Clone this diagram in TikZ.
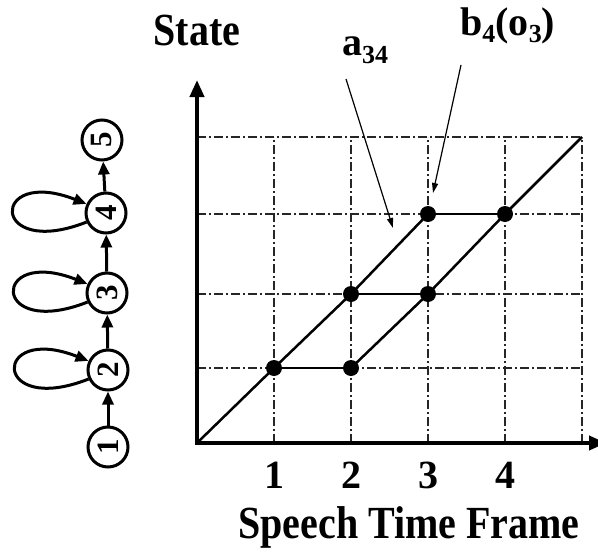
\documentclass[tikz,border=0pt]{standalone}
\usepackage{fontspec}
\setmainfont{Liberation Serif}
\usetikzlibrary{arrows.meta}
\begin{document}
\begin{tikzpicture}[x=1pt,y=-1pt,
  state/.style={circle,draw,line width=3pt,minimum size=40pt,inner sep=0pt,font=\fontsize{31}{31}\selectfont},
  trans/.style={line width=3pt,-{Triangle[length=13pt,width=11pt]}},
  gridline/.style={line width=1.2pt,dash pattern=on 9pt off 3pt on 2pt off 3pt,black!85},
  axis/.style={line width=4pt,line join=miter,{Triangle[length=17pt,width=14pt]}-{Triangle[length=17pt,width=14pt]}},
  pathline/.style={line width=2.5pt},
  dot/.style={circle,fill,inner sep=0pt,minimum size=16pt},
  pointer/.style={line width=1.2pt,-{Triangle[length=10pt,width=6pt]}},
  big/.style={font=\bfseries\fontsize{40}{40}\selectfont,inner sep=0pt},
]
\useasboundingbox (0,0) rectangle (598,552);

% HMM chain
\node[state] (s1) at (108,447) {\rotatebox{90}{\textbf{1}}};
\node[state] (s2) at (108,370) {\rotatebox{90}{\textbf{2}}};
\node[state] (s3) at (107,293) {\rotatebox{90}{\textbf{3}}};
\node[state] (s4) at (106,213) {\rotatebox{90}{\textbf{4}}};
\node[state] (s5) at (102,140) {\rotatebox{90}{\textbf{5}}};
\draw[trans] (s1) -- (s2);
\draw[trans] (s2) -- (s3);
\draw[trans] (s3) -- (s4);
\draw[trans] (s4) -- (s5);
\foreach \s in {s2,s3,s4}
  \draw[trans] (\s.205) .. controls +(-97,38) and +(-97,-38) .. (\s.155);

% grid
\coordinate (O) at (197,443);
\foreach \x in {274,351,428,505,582}
  \draw[gridline] (\x,443) -- (\x,137);
\foreach \y in {368,294,214,137}
  \draw[gridline] (197,\y) -- (582,\y);

% axes
\coordinate (ytip) at (197,80);
\coordinate (xtip) at (606,443);
\draw[axis] (ytip) -- (O) -- (xtip);

% trellis
\node[dot] (d11) at (274,368) {};
\node[dot] (d21) at (351,368) {};
\node[dot] (d22) at (351,294) {};
\node[dot] (d32) at (428,294) {};
\node[dot] (d33) at (428,214) {};
\node[dot] (d43) at (505,214) {};
\coordinate (c54) at (582,137);
\draw[pathline] (O) -- (d11.center) -- (d22.center) -- (d33.center);
\draw[pathline] (d21.center) -- (d32.center) -- (d43.center) -- (c54);
\draw[pathline] (d11.center) -- (d21.center);
\draw[pathline] (d22.center) -- (d32.center);
\draw[pathline] (d33.center) -- (d43.center);

% labels
\node[big,anchor=base] (ylab) at (197,45) {\scalebox{1}[1.15]{State}};
\node[big,anchor=base] (xlab) at (409,538) {\scalebox{1}[1.15]{Speech Time Frame}};
\node[big,anchor=base] (t1) at (274,488) {1};
\node[big,anchor=base] (t2) at (351,488) {2};
\node[big,anchor=base] (t3) at (428,488) {3};
\node[big,anchor=base] (t4) at (505,488) {4};
\node[big,anchor=base west] (a34) at (342,55) {a\raisebox{-8pt}{\fontsize{26}{26}\selectfont 34}};
\node[big,anchor=base west] (b4) at (460,35) {b\raisebox{-7pt}{\fontsize{26}{26}\selectfont 4}(o\raisebox{-7pt}{\fontsize{26}{26}\selectfont 3})};

% pointers
\coordinate (pa) at (346,79);
\coordinate (pa2) at (393,228);
\coordinate (pb) at (461,65);
\coordinate (pb2) at (433,193);
\draw[pointer] (pa) -- (pa2);
\draw[pointer] (pb) -- (pb2);
\end{tikzpicture}
\end{document}
